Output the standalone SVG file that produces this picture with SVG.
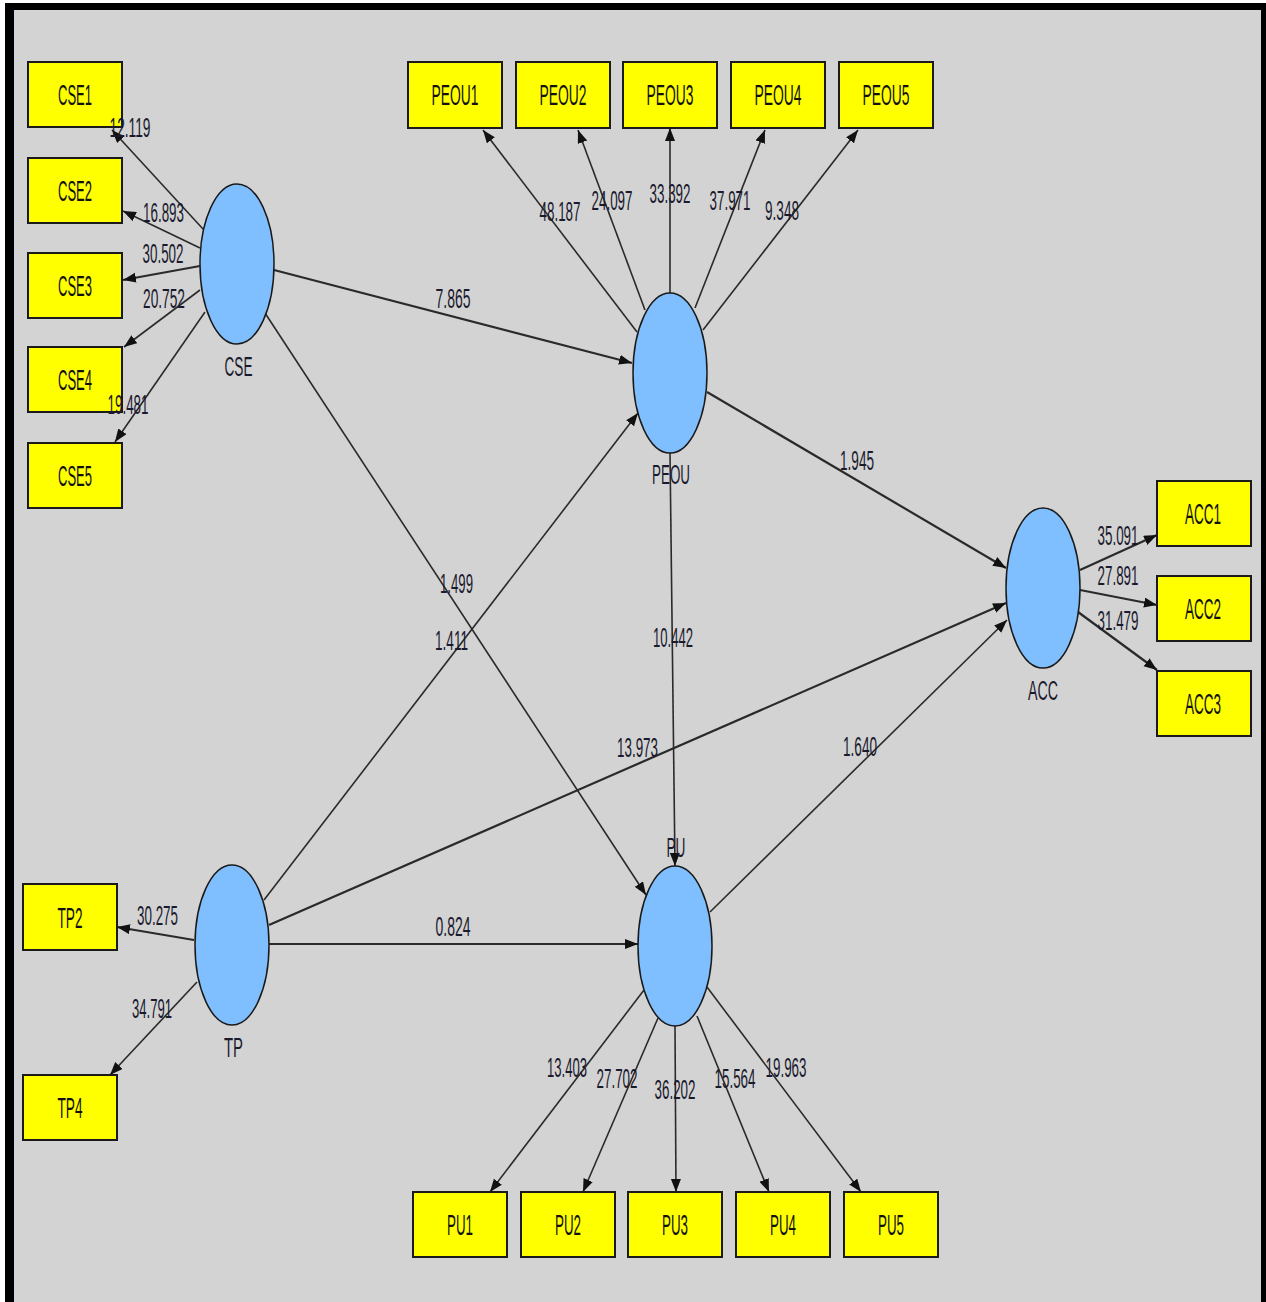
<svg xmlns="http://www.w3.org/2000/svg" width="1266" height="1302" viewBox="0 0 1266 1302">
<style>
.box{fill:#ffff00;stroke:#1a1a1a;stroke-width:2}
.lv{fill:#80bfff;stroke:#1a1a1a;stroke-width:1.5}
.bl{font-family:"Liberation Sans Narrow","Liberation Sans",Arial,sans-serif;font-size:29px;fill:#111;text-anchor:middle}
.nl{font-family:"Liberation Sans Narrow","Liberation Sans",Arial,sans-serif;font-size:27px;fill:#1a1a2e;text-anchor:middle}
.e{stroke:#2a2a2a;stroke-width:1.6;fill:none;marker-end:url(#ah)}
.t{stroke-width:2.2}
</style>
<defs>
<marker id="ah" markerUnits="userSpaceOnUse" markerWidth="15" markerHeight="11" refX="13" refY="5" orient="auto">
<path d="M0,0 L13,5 L0,10 z" fill="#111"/>
</marker>
</defs>
<rect x="0" y="0" width="1266" height="1302" fill="#ffffff"/>
<rect x="5" y="3" width="1261" height="1299" fill="#000"/>
<rect x="15" y="10" width="1246" height="1292" fill="#d3d3d3"/>
<line x1="14.5" y1="10" x2="14.5" y2="1302" stroke="#c6d6e6" stroke-width="1"/>

<g id="connectors">
<line class="e" x1="203" y1="229" x2="112" y2="130"/>
<line class="e" x1="200" y1="248" x2="123" y2="211"/>
<line class="e t" x1="200" y1="266" x2="123" y2="280"/>
<line class="e" x1="200" y1="290" x2="124" y2="347"/>
<line class="e" x1="205" y1="312" x2="115" y2="442"/>
<line class="e t" x1="274" y1="270" x2="632" y2="363"/>
<line class="e" x1="265" y1="313" x2="646" y2="895"/>
<line class="e" x1="264" y1="900" x2="638" y2="413"/>
<line class="e t" x1="269" y1="925" x2="1006" y2="603"/>
<line class="e t" x1="269" y1="944" x2="638" y2="944"/>
<line class="e t" x1="707" y1="392" x2="1006" y2="568"/>
<line class="e" x1="670" y1="453" x2="675" y2="866"/>
<line class="e" x1="710" y1="912" x2="1007" y2="620"/>
<line class="e t" x1="194" y1="940" x2="117" y2="927"/>
<line class="e" x1="197" y1="982" x2="110" y2="1075"/>
<line class="e t" x1="1080" y1="570" x2="1157" y2="535"/>
<line class="e t" x1="1080" y1="590" x2="1157" y2="605"/>
<line class="e t" x1="1078" y1="612" x2="1157" y2="670"/>
<line class="e" x1="637" y1="332" x2="483" y2="130"/>
<line class="e" x1="645" y1="310" x2="578" y2="130"/>
<line class="e" x1="670" y1="293" x2="670" y2="128"/>
<line class="e" x1="695" y1="308" x2="765" y2="130"/>
<line class="e" x1="703" y1="330" x2="858" y2="130"/>
<line class="e" x1="644" y1="990" x2="490" y2="1192"/>
<line class="e" x1="658" y1="1018" x2="583" y2="1192"/>
<line class="e" x1="675" y1="1026" x2="676" y2="1192"/>
<line class="e" x1="697" y1="1016" x2="769" y2="1192"/>
<line class="e" x1="707" y1="987" x2="861" y2="1192"/>
</g>

<g id="CSE"><ellipse class="lv" cx="237" cy="264" rx="37" ry="80"/><text class="nl" x="238.5" y="376" textLength="28" lengthAdjust="spacingAndGlyphs">CSE</text></g>
<g id="PEOU"><ellipse class="lv" cx="670" cy="373" rx="37" ry="80"/><text class="nl" x="671" y="484" textLength="38" lengthAdjust="spacingAndGlyphs">PEOU</text></g>
<g id="ACC"><ellipse class="lv" cx="1043" cy="588" rx="37" ry="80"/><text class="nl" x="1043" y="700" textLength="30" lengthAdjust="spacingAndGlyphs">ACC</text></g>
<g id="TP"><ellipse class="lv" cx="232" cy="945" rx="37" ry="80"/><text class="nl" x="233.5" y="1057" textLength="19" lengthAdjust="spacingAndGlyphs">TP</text></g>
<g id="PU"><ellipse class="lv" cx="675" cy="946" rx="37" ry="80"/><text class="nl" x="676" y="857" textLength="19" lengthAdjust="spacingAndGlyphs">PU</text></g>

<g id="CSE1"><rect class="box" x="28" y="62" width="94" height="65"/><text class="bl" x="75" y="105" textLength="34" lengthAdjust="spacingAndGlyphs">CSE1</text></g>
<g id="CSE2"><rect class="box" x="28" y="158" width="94" height="65"/><text class="bl" x="75" y="201" textLength="34" lengthAdjust="spacingAndGlyphs">CSE2</text></g>
<g id="CSE3"><rect class="box" x="28" y="253" width="94" height="65"/><text class="bl" x="75" y="296" textLength="34" lengthAdjust="spacingAndGlyphs">CSE3</text></g>
<g id="CSE4"><rect class="box" x="28" y="347" width="94" height="65"/><text class="bl" x="75" y="390" textLength="34" lengthAdjust="spacingAndGlyphs">CSE4</text></g>
<g id="CSE5"><rect class="box" x="28" y="443" width="94" height="65"/><text class="bl" x="75" y="486" textLength="34" lengthAdjust="spacingAndGlyphs">CSE5</text></g>

<g id="PEOU1"><rect class="box" x="408" y="62" width="94" height="66"/><text class="bl" x="455" y="105" textLength="47" lengthAdjust="spacingAndGlyphs">PEOU1</text></g>
<g id="PEOU2"><rect class="box" x="516" y="62" width="94" height="66"/><text class="bl" x="563" y="105" textLength="47" lengthAdjust="spacingAndGlyphs">PEOU2</text></g>
<g id="PEOU3"><rect class="box" x="623" y="62" width="94" height="66"/><text class="bl" x="670" y="105" textLength="47" lengthAdjust="spacingAndGlyphs">PEOU3</text></g>
<g id="PEOU4"><rect class="box" x="731" y="62" width="94" height="66"/><text class="bl" x="778" y="105" textLength="47" lengthAdjust="spacingAndGlyphs">PEOU4</text></g>
<g id="PEOU5"><rect class="box" x="839" y="62" width="94" height="66"/><text class="bl" x="886" y="105" textLength="47" lengthAdjust="spacingAndGlyphs">PEOU5</text></g>

<g id="ACC1"><rect class="box" x="1157" y="481" width="94" height="65"/><text class="bl" x="1203" y="524" textLength="36" lengthAdjust="spacingAndGlyphs">ACC1</text></g>
<g id="ACC2"><rect class="box" x="1157" y="576" width="94" height="65"/><text class="bl" x="1203" y="619" textLength="36" lengthAdjust="spacingAndGlyphs">ACC2</text></g>
<g id="ACC3"><rect class="box" x="1157" y="671" width="94" height="65"/><text class="bl" x="1203" y="714" textLength="36" lengthAdjust="spacingAndGlyphs">ACC3</text></g>

<g id="TP2"><rect class="box" x="23" y="884" width="94" height="66"/><text class="bl" x="70" y="928" textLength="25" lengthAdjust="spacingAndGlyphs">TP2</text></g>
<g id="TP4"><rect class="box" x="23" y="1075" width="94" height="65"/><text class="bl" x="70" y="1118" textLength="25" lengthAdjust="spacingAndGlyphs">TP4</text></g>

<g id="PU1"><rect class="box" x="413" y="1192" width="94" height="65"/><text class="bl" x="460" y="1235" textLength="26" lengthAdjust="spacingAndGlyphs">PU1</text></g>
<g id="PU2"><rect class="box" x="521" y="1192" width="94" height="65"/><text class="bl" x="568" y="1235" textLength="26" lengthAdjust="spacingAndGlyphs">PU2</text></g>
<g id="PU3"><rect class="box" x="628" y="1192" width="94" height="65"/><text class="bl" x="675" y="1235" textLength="26" lengthAdjust="spacingAndGlyphs">PU3</text></g>
<g id="PU4"><rect class="box" x="736" y="1192" width="94" height="65"/><text class="bl" x="783" y="1235" textLength="26" lengthAdjust="spacingAndGlyphs">PU4</text></g>
<g id="PU5"><rect class="box" x="844" y="1192" width="94" height="65"/><text class="bl" x="891" y="1235" textLength="26" lengthAdjust="spacingAndGlyphs">PU5</text></g>

<g id="edge-labels">
<text class="nl" x="130" y="137" textLength="41" lengthAdjust="spacingAndGlyphs">12.119</text>
<text class="nl" x="163.5" y="222" textLength="41" lengthAdjust="spacingAndGlyphs">16.893</text>
<text class="nl" x="163" y="263" textLength="41" lengthAdjust="spacingAndGlyphs">30.502</text>
<text class="nl" x="164" y="308" textLength="42" lengthAdjust="spacingAndGlyphs">20.752</text>
<text class="nl" x="128" y="414" textLength="41" lengthAdjust="spacingAndGlyphs">19.481</text>
<text class="nl" x="560" y="221" textLength="41" lengthAdjust="spacingAndGlyphs">48.187</text>
<text class="nl" x="612" y="210" textLength="41" lengthAdjust="spacingAndGlyphs">24.097</text>
<text class="nl" x="670" y="203" textLength="41" lengthAdjust="spacingAndGlyphs">33.392</text>
<text class="nl" x="730" y="210" textLength="41" lengthAdjust="spacingAndGlyphs">37.971</text>
<text class="nl" x="782" y="220" textLength="34" lengthAdjust="spacingAndGlyphs">9.348</text>
<text class="nl" x="453" y="308" textLength="35" lengthAdjust="spacingAndGlyphs">7.865</text>
<text class="nl" x="456.5" y="593" textLength="33" lengthAdjust="spacingAndGlyphs">1.499</text>
<text class="nl" x="451.5" y="650" textLength="33" lengthAdjust="spacingAndGlyphs">1.411</text>
<text class="nl" x="673" y="647" textLength="40" lengthAdjust="spacingAndGlyphs">10.442</text>
<text class="nl" x="637.5" y="757" textLength="41" lengthAdjust="spacingAndGlyphs">13.973</text>
<text class="nl" x="453" y="936" textLength="35" lengthAdjust="spacingAndGlyphs">0.824</text>
<text class="nl" x="857" y="470" textLength="34" lengthAdjust="spacingAndGlyphs">1.945</text>
<text class="nl" x="860" y="756" textLength="34" lengthAdjust="spacingAndGlyphs">1.640</text>
<text class="nl" x="157.5" y="925" textLength="41" lengthAdjust="spacingAndGlyphs">30.275</text>
<text class="nl" x="152" y="1018" textLength="40" lengthAdjust="spacingAndGlyphs">34.791</text>
<text class="nl" x="1118" y="545" textLength="41" lengthAdjust="spacingAndGlyphs">35.091</text>
<text class="nl" x="1118" y="585" textLength="41" lengthAdjust="spacingAndGlyphs">27.891</text>
<text class="nl" x="1118" y="630" textLength="41" lengthAdjust="spacingAndGlyphs">31.479</text>
<text class="nl" x="567" y="1077" textLength="40" lengthAdjust="spacingAndGlyphs">13.403</text>
<text class="nl" x="617" y="1088" textLength="41" lengthAdjust="spacingAndGlyphs">27.702</text>
<text class="nl" x="675" y="1099" textLength="41" lengthAdjust="spacingAndGlyphs">36.202</text>
<text class="nl" x="735" y="1088" textLength="41" lengthAdjust="spacingAndGlyphs">15.564</text>
<text class="nl" x="786" y="1077" textLength="41" lengthAdjust="spacingAndGlyphs">19.963</text>
</g>
</svg>
